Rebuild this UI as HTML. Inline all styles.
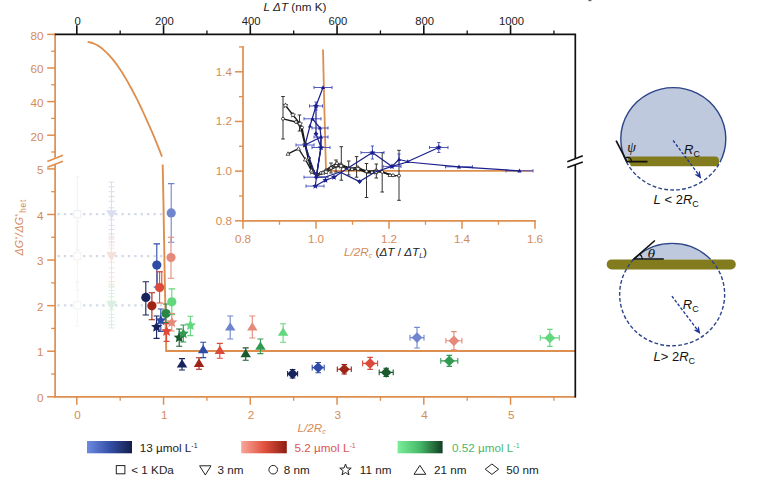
<!DOCTYPE html>
<html lang="en"><head><meta charset="utf-8"><title>Figure</title>
<style>html,body{margin:0;padding:0;background:#fff;}body{width:764px;height:488px;overflow:hidden;}svg{display:block;}</style>
</head><body>
<svg width="764" height="488" viewBox="0 0 764 488">
<defs>
<linearGradient id="gb" x1="0" x2="1" y1="0" y2="0"><stop offset="0" stop-color="#6C8BE0"/><stop offset="0.5" stop-color="#3550A8"/><stop offset="1" stop-color="#141E4A"/></linearGradient>
<linearGradient id="gr" x1="0" x2="1" y1="0" y2="0"><stop offset="0" stop-color="#F7A79A"/><stop offset="0.5" stop-color="#E2523F"/><stop offset="1" stop-color="#8E1D12"/></linearGradient>
<linearGradient id="gg" x1="0" x2="1" y1="0" y2="0"><stop offset="0" stop-color="#7BEE9A"/><stop offset="0.5" stop-color="#46B868"/><stop offset="1" stop-color="#123F22"/></linearGradient>
</defs>
<rect width="764" height="488" fill="#fff"/>
<rect x="588.4" y="0" width="3" height="1.2" fill="#666"/>
<line x1="57.50" y1="214.20" x2="163.00" y2="214.20" stroke="#D3D9E6" stroke-width="2.3" stroke-dasharray="2.3 4.1"/>
<line x1="57.50" y1="256.20" x2="163.00" y2="256.20" stroke="#D3D9E6" stroke-width="2.3" stroke-dasharray="2.3 4.1"/>
<line x1="57.50" y1="305.30" x2="163.00" y2="305.30" stroke="#D3D9E6" stroke-width="2.3" stroke-dasharray="2.3 4.1"/>
<g stroke="#EFF1F8" stroke-width="1" opacity="1" fill="none"><path d="M77.30 214.20V177.00M74.80 177.00H79.80"/><path d="M77.30 214.20V250.00M74.80 250.00H79.80"/></g>
<rect x="73.8" y="210.7" width="7" height="7" fill="#fff" stroke="#EFF1F8" stroke-width="1.2"/>
<g stroke="#FBF2F0" stroke-width="1" opacity="1" fill="none"><path d="M77.30 256.20V222.00M74.80 222.00H79.80"/><path d="M77.30 256.20V290.00M74.80 290.00H79.80"/></g>
<rect x="73.8" y="252.7" width="7" height="7" fill="#fff" stroke="#FBF2F0" stroke-width="1.2"/>
<g stroke="#EFF8F2" stroke-width="1" opacity="1" fill="none"><path d="M77.30 305.30V282.00M74.80 282.00H79.80"/><path d="M77.30 305.30V326.00M74.80 326.00H79.80"/></g>
<rect x="73.8" y="301.8" width="7" height="7" fill="#fff" stroke="#EFF8F2" stroke-width="1.2"/>
<g stroke="#D9DEF0" stroke-width="1" opacity="1" fill="none"><path d="M111.50 214.20V182.00M108.50 182.00H114.50"/><path d="M111.50 214.20V242.00M108.50 242.00H114.50"/></g>
<path d="M108.5 207.8H114.5M108.5 219.8H114.5" stroke="#D9DEF0" stroke-width="1"/>
<path d="M108.5 201.3H114.5M108.5 225.3H114.5" stroke="#D9DEF0" stroke-width="1"/>
<path d="M108.5 196.5H114.5M108.5 229.5H114.5" stroke="#D9DEF0" stroke-width="1"/>
<path d="M108.5 191.7H114.5M108.5 233.7H114.5" stroke="#D9DEF0" stroke-width="1"/>
<path d="M108.5 186.8H114.5M108.5 237.8H114.5" stroke="#D9DEF0" stroke-width="1"/>
<polygon points="111.50,219.20 116.75,210.20 106.25,210.20" fill="#D9DEF0"  opacity="1"/>
<g stroke="#F6E0DC" stroke-width="1" opacity="1" fill="none"><path d="M111.50 256.20V236.00M108.50 236.00H114.50"/><path d="M111.50 256.20V286.00M108.50 286.00H114.50"/></g>
<path d="M108.5 252.2H114.5M108.5 262.2H114.5" stroke="#F6E0DC" stroke-width="1"/>
<path d="M108.5 248.1H114.5M108.5 268.1H114.5" stroke="#F6E0DC" stroke-width="1"/>
<path d="M108.5 245.1H114.5M108.5 272.6H114.5" stroke="#F6E0DC" stroke-width="1"/>
<path d="M108.5 242.1H114.5M108.5 277.1H114.5" stroke="#F6E0DC" stroke-width="1"/>
<path d="M108.5 239.0H114.5M108.5 281.5H114.5" stroke="#F6E0DC" stroke-width="1"/>
<polygon points="111.50,261.20 116.75,252.20 106.25,252.20" fill="#F6E0DC"  opacity="1"/>
<g stroke="#D9EFE0" stroke-width="1" opacity="1" fill="none"><path d="M111.50 305.30V284.00M108.50 284.00H114.50"/><path d="M111.50 305.30V328.00M108.50 328.00H114.50"/></g>
<path d="M108.5 301.0H114.5M108.5 309.8H114.5" stroke="#D9EFE0" stroke-width="1"/>
<path d="M108.5 296.8H114.5M108.5 314.4H114.5" stroke="#D9EFE0" stroke-width="1"/>
<path d="M108.5 293.6H114.5M108.5 317.8H114.5" stroke="#D9EFE0" stroke-width="1"/>
<path d="M108.5 290.4H114.5M108.5 321.2H114.5" stroke="#D9EFE0" stroke-width="1"/>
<path d="M108.5 287.2H114.5M108.5 324.6H114.5" stroke="#D9EFE0" stroke-width="1"/>
<polygon points="111.50,310.30 116.75,301.30 106.25,301.30" fill="#D9EFE0"  opacity="1"/>
<path d="M87.60 41.90 L92.60 43.00 L97.50 45.30 L102.50 48.80 L107.40 53.30 L112.40 58.90 L117.40 65.40 L122.30 72.80 L127.30 81.10 L132.20 90.00 L137.20 99.70 L142.20 110.00 L147.10 120.80 L152.10 132.10 L157.00 143.80 L162.00 156.60" fill="none" stroke="#DE8E4E" stroke-width="1.8" stroke-linejoin="round"/>
<path d="M162.7 164.6 L163.4 200 L164.6 270 L166.2 351 L575 351" fill="none" stroke="#DE8E4E" stroke-width="1.9" stroke-linejoin="miter"/>
<g stroke="#6F86CF" stroke-width="1.1" opacity="1" fill="none"><path d="M171.20 212.90V183.60M168.00 183.60H174.40"/><path d="M171.20 212.90V242.20M168.00 242.20H174.40"/></g>
<g stroke="#E58A7B" stroke-width="1.1" opacity="1" fill="none"><path d="M171.00 257.50V237.30M167.80 237.30H174.20"/><path d="M171.00 257.50V278.30M167.80 278.30H174.20"/></g>
<g stroke="#2E4CA6" stroke-width="1.1" opacity="1" fill="none"><path d="M156.80 265.10V243.90M153.60 243.90H160.00"/><path d="M156.80 265.10V287.00M153.60 287.00H160.00"/></g>
<g stroke="#DC4A3A" stroke-width="1.1" opacity="1" fill="none"><path d="M159.60 287.60V271.80M156.40 271.80H162.80"/><path d="M159.60 287.60V303.00M156.40 303.00H162.80"/></g>
<g stroke="#17245C" stroke-width="1.1" opacity="1" fill="none"><path d="M145.80 297.40V281.70M142.60 281.70H149.00"/><path d="M145.80 297.40V315.00M142.60 315.00H149.00"/></g>
<g stroke="#9E2416" stroke-width="1.1" opacity="1" fill="none"><path d="M151.90 305.80V292.80M148.70 292.80H155.10"/><path d="M151.90 305.80V319.70M148.70 319.70H155.10"/></g>
<g stroke="#63D77E" stroke-width="1.1" opacity="1" fill="none"><path d="M171.80 301.80V288.90M168.60 288.90H175.00"/><path d="M171.80 301.80V314.60M168.60 314.60H175.00"/></g>
<g stroke="#2A8646" stroke-width="1.1" opacity="1" fill="none"><path d="M166.00 313.50V304.00M162.80 304.00H169.20"/><path d="M166.00 313.50V322.50M162.80 322.50H169.20"/></g>
<path d="M157.4 287 V271.8 H161.8 V287" fill="none" stroke="#DC4A3A" stroke-width="1.1"/>
<circle cx="171.20" cy="212.90" r="4.6" fill="#6F86CF"  opacity="1"/>
<circle cx="171.00" cy="257.50" r="4.6" fill="#E58A7B"  opacity="1"/>
<circle cx="156.80" cy="265.10" r="4.6" fill="#2E4CA6"  opacity="1"/>
<circle cx="159.60" cy="287.60" r="4.6" fill="#DC4A3A"  opacity="1"/>
<circle cx="145.80" cy="297.40" r="4.6" fill="#17245C"  opacity="1"/>
<circle cx="151.90" cy="305.80" r="4.6" fill="#9E2416"  opacity="1"/>
<circle cx="171.80" cy="301.80" r="4.6" fill="#63D77E"  opacity="1"/>
<circle cx="166.00" cy="313.50" r="4.6" fill="#2A8646"  opacity="1"/>
<g stroke="#17245C" stroke-width="1.1" opacity="1" fill="none"><path d="M156.60 327.00V316.00M153.60 316.00H159.60"/><path d="M156.60 327.00V338.40M153.60 338.40H159.60"/></g>
<g stroke="#2E4CA6" stroke-width="1.1" opacity="1" fill="none"><path d="M160.80 320.40V309.00M157.80 309.00H163.80"/><path d="M160.80 320.40V331.50M157.80 331.50H163.80"/></g>
<g stroke="#DC4A3A" stroke-width="1.1" opacity="1" fill="none"><path d="M166.60 331.20V323.60M163.60 323.60H169.60"/><path d="M166.60 331.20V341.40M163.60 341.40H169.60"/></g>
<g stroke="#E58A7B" stroke-width="1.1" opacity="1" fill="none"><path d="M171.80 322.40V313.50M168.80 313.50H174.80"/><path d="M171.80 322.40V331.00M168.80 331.00H174.80"/></g>
<g stroke="#1C5A2E" stroke-width="1.1" opacity="1" fill="none"><path d="M179.20 337.60V329.00M176.20 329.00H182.20"/><path d="M179.20 337.60V346.30M176.20 346.30H182.20"/></g>
<g stroke="#2F9A50" stroke-width="1.1" opacity="1" fill="none"><path d="M183.30 333.60V325.00M180.30 325.00H186.30"/><path d="M183.30 333.60V342.00M180.30 342.00H186.30"/></g>
<g stroke="#63D77E" stroke-width="1.1" opacity="1" fill="none"><path d="M190.40 325.40V316.20M187.40 316.20H193.40"/><path d="M190.40 325.40V335.60M187.40 335.60H193.40"/></g>
<polygon points="156.60,321.20 158.20,324.79 162.12,325.21 159.19,327.84 160.01,331.69 156.60,329.73 153.19,331.69 154.01,327.84 151.08,325.21 155.00,324.79" fill="#17245C"  opacity="1"/>
<polygon points="160.80,314.60 162.40,318.19 166.32,318.61 163.39,321.24 164.21,325.09 160.80,323.13 157.39,325.09 158.21,321.24 155.28,318.61 159.20,318.19" fill="#2E4CA6"  opacity="1"/>
<polygon points="166.60,325.40 168.20,328.99 172.12,329.41 169.19,332.04 170.01,335.89 166.60,333.93 163.19,335.89 164.01,332.04 161.08,329.41 165.00,328.99" fill="#DC4A3A"  opacity="1"/>
<polygon points="171.80,316.60 173.40,320.19 177.32,320.61 174.39,323.24 175.21,327.09 171.80,325.13 168.39,327.09 169.21,323.24 166.28,320.61 170.20,320.19" fill="#E58A7B"  opacity="1"/>
<polygon points="179.20,331.80 180.80,335.39 184.72,335.81 181.79,338.44 182.61,342.29 179.20,340.33 175.79,342.29 176.61,338.44 173.68,335.81 177.60,335.39" fill="#1C5A2E"  opacity="1"/>
<polygon points="183.30,327.80 184.90,331.39 188.82,331.81 185.89,334.44 186.71,338.29 183.30,336.33 179.89,338.29 180.71,334.44 177.78,331.81 181.70,331.39" fill="#2F9A50"  opacity="1"/>
<polygon points="190.40,319.60 192.00,323.19 195.92,323.61 192.99,326.24 193.81,330.09 190.40,328.13 186.99,330.09 187.81,326.24 184.88,323.61 188.80,323.19" fill="#63D77E"  opacity="1"/>
<g stroke="#6F86CF" stroke-width="1.1" opacity="1" fill="none"><path d="M230.20 326.60V316.00M227.20 316.00H233.20"/><path d="M230.20 326.60V339.00M227.20 339.00H233.20"/></g>
<g stroke="#E58A7B" stroke-width="1.1" opacity="1" fill="none"><path d="M252.30 326.60V316.00M249.30 316.00H255.30"/><path d="M252.30 326.60V338.00M249.30 338.00H255.30"/></g>
<g stroke="#63D77E" stroke-width="1.1" opacity="1" fill="none"><path d="M283.10 331.80V323.70M280.10 323.70H286.10"/><path d="M283.10 331.80V342.20M280.10 342.20H286.10"/></g>
<g stroke="#2E4CA6" stroke-width="1.1" opacity="1" fill="none"><path d="M203.20 349.20V342.30M200.20 342.30H206.20"/><path d="M203.20 349.20V357.60M200.20 357.60H206.20"/></g>
<g stroke="#DC4A3A" stroke-width="1.1" opacity="1" fill="none"><path d="M219.80 350.00V343.40M216.80 343.40H222.80"/><path d="M219.80 350.00V358.20M216.80 358.20H222.80"/></g>
<g stroke="#1C5A2E" stroke-width="1.1" opacity="1" fill="none"><path d="M245.70 353.20V347.90M242.70 347.90H248.70"/><path d="M245.70 353.20V360.30M242.70 360.30H248.70"/></g>
<g stroke="#2F9A50" stroke-width="1.1" opacity="1" fill="none"><path d="M260.40 345.80V339.00M257.40 339.00H263.40"/><path d="M260.40 345.80V353.60M257.40 353.60H263.40"/></g>
<g stroke="#17245C" stroke-width="1.1" opacity="1" fill="none"><path d="M182.00 363.60V358.60M179.00 358.60H185.00"/><path d="M182.00 363.60V370.00M179.00 370.00H185.00"/></g>
<g stroke="#9E2416" stroke-width="1.1" opacity="1" fill="none"><path d="M199.00 363.00V357.70M196.00 357.70H202.00"/><path d="M199.00 363.00V369.20M196.00 369.20H202.00"/></g>
<polygon points="230.20,322.20 235.45,330.60 224.95,330.60" fill="#6F86CF"  opacity="1"/>
<polygon points="252.30,322.20 257.55,330.60 247.05,330.60" fill="#E58A7B"  opacity="1"/>
<polygon points="283.10,327.40 288.35,335.80 277.85,335.80" fill="#63D77E"  opacity="1"/>
<polygon points="203.20,344.80 208.45,353.20 197.95,353.20" fill="#2E4CA6"  opacity="1"/>
<polygon points="219.80,345.60 225.05,354.00 214.55,354.00" fill="#DC4A3A"  opacity="1"/>
<polygon points="245.70,348.80 250.95,357.20 240.45,357.20" fill="#1C5A2E"  opacity="1"/>
<polygon points="260.40,341.40 265.65,349.80 255.15,349.80" fill="#2F9A50"  opacity="1"/>
<polygon points="182.00,359.20 187.25,367.60 176.75,367.60" fill="#17245C"  opacity="1"/>
<polygon points="199.00,358.60 204.25,367.00 193.75,367.00" fill="#9E2416"  opacity="1"/>
<g stroke="#17245C" stroke-width="1.1" opacity="1" fill="none"><path d="M292.60 373.80V369.50M289.80 369.50H295.40"/><path d="M292.60 373.80V378.00M289.80 378.00H295.40"/><path d="M292.60 373.80H287.60M287.60 371.00V376.60"/><path d="M292.60 373.80H297.60M297.60 371.00V376.60"/></g>
<g stroke="#2E4CA6" stroke-width="1.1" opacity="1" fill="none"><path d="M318.20 367.60V362.50M315.40 362.50H321.00"/><path d="M318.20 367.60V372.70M315.40 372.70H321.00"/><path d="M318.20 367.60H312.20M312.20 364.80V370.40"/><path d="M318.20 367.60H324.20M324.20 364.80V370.40"/></g>
<g stroke="#9E2416" stroke-width="1.1" opacity="1" fill="none"><path d="M344.30 369.30V364.60M341.50 364.60H347.10"/><path d="M344.30 369.30V374.00M341.50 374.00H347.10"/><path d="M344.30 369.30H337.30M337.30 366.50V372.10"/><path d="M344.30 369.30H351.30M351.30 366.50V372.10"/></g>
<g stroke="#DC4A3A" stroke-width="1.1" opacity="1" fill="none"><path d="M370.10 363.40V357.40M367.30 357.40H372.90"/><path d="M370.10 363.40V369.40M367.30 369.40H372.90"/><path d="M370.10 363.40H362.60M362.60 360.60V366.20"/><path d="M370.10 363.40H377.60M377.60 360.60V366.20"/></g>
<g stroke="#1C5A2E" stroke-width="1.1" opacity="1" fill="none"><path d="M386.20 372.40V368.30M383.40 368.30H389.00"/><path d="M386.20 372.40V376.50M383.40 376.50H389.00"/><path d="M386.20 372.40H379.20M379.20 369.60V375.20"/><path d="M386.20 372.40H393.20M393.20 369.60V375.20"/></g>
<g stroke="#6F86CF" stroke-width="1.1" opacity="1" fill="none"><path d="M417.00 337.60V327.40M414.20 327.40H419.80"/><path d="M417.00 337.60V348.00M414.20 348.00H419.80"/><path d="M417.00 337.60H410.00M410.00 334.80V340.40"/><path d="M417.00 337.60H424.00M424.00 334.80V340.40"/></g>
<g stroke="#E58A7B" stroke-width="1.1" opacity="1" fill="none"><path d="M453.90 340.80V331.60M451.10 331.60H456.70"/><path d="M453.90 340.80V349.80M451.10 349.80H456.70"/><path d="M453.90 340.80H445.90M445.90 338.00V343.60"/><path d="M453.90 340.80H461.90M461.90 338.00V343.60"/></g>
<g stroke="#2F9A50" stroke-width="1.1" opacity="1" fill="none"><path d="M449.30 360.90V355.40M446.50 355.40H452.10"/><path d="M449.30 360.90V366.40M446.50 366.40H452.10"/><path d="M449.30 360.90H440.80M440.80 358.10V363.70"/><path d="M449.30 360.90H457.80M457.80 358.10V363.70"/></g>
<g stroke="#63D77E" stroke-width="1.1" opacity="1" fill="none"><path d="M549.80 337.90V329.40M547.00 329.40H552.60"/><path d="M549.80 337.90V346.40M547.00 346.40H552.60"/><path d="M549.80 337.90H540.30M540.30 335.10V340.70"/><path d="M549.80 337.90H559.30M559.30 335.10V340.70"/></g>
<polygon points="292.60,368.40 298.00,373.80 292.60,379.20 287.20,373.80" fill="#17245C"  opacity="1"/>
<polygon points="318.20,362.20 323.60,367.60 318.20,373.00 312.80,367.60" fill="#2E4CA6"  opacity="1"/>
<polygon points="344.30,363.90 349.70,369.30 344.30,374.70 338.90,369.30" fill="#9E2416"  opacity="1"/>
<polygon points="370.10,358.00 375.50,363.40 370.10,368.80 364.70,363.40" fill="#DC4A3A"  opacity="1"/>
<polygon points="386.20,367.00 391.60,372.40 386.20,377.80 380.80,372.40" fill="#1C5A2E"  opacity="1"/>
<polygon points="417.00,332.20 422.40,337.60 417.00,343.00 411.60,337.60" fill="#6F86CF"  opacity="1"/>
<polygon points="453.90,335.40 459.30,340.80 453.90,346.20 448.50,340.80" fill="#E58A7B"  opacity="1"/>
<polygon points="449.30,355.50 454.70,360.90 449.30,366.30 443.90,360.90" fill="#2F9A50"  opacity="1"/>
<polygon points="549.80,332.50 555.20,337.90 549.80,343.30 544.40,337.90" fill="#63D77E"  opacity="1"/>
<line x1="55.10" y1="33.60" x2="55.10" y2="157.80" stroke="#DE8E4E" stroke-width="1.7" />
<line x1="55.10" y1="164.60" x2="55.10" y2="397.60" stroke="#DE8E4E" stroke-width="1.7" />
<line x1="47.30" y1="161.50" x2="63.00" y2="155.30" stroke="#DE8E4E" stroke-width="1.5" />
<line x1="47.30" y1="167.20" x2="63.00" y2="161.30" stroke="#DE8E4E" stroke-width="1.5" />
<line x1="54.30" y1="396.80" x2="575.30" y2="396.80" stroke="#DE8E4E" stroke-width="1.7" />
<line x1="54.30" y1="34.40" x2="576.10" y2="34.40" stroke="#111" stroke-width="1.7" />
<line x1="575.30" y1="34.40" x2="575.30" y2="158.00" stroke="#111" stroke-width="1.7" />
<line x1="575.30" y1="164.80" x2="575.30" y2="397.60" stroke="#111" stroke-width="1.7" />
<line x1="567.30" y1="161.80" x2="582.80" y2="155.70" stroke="#111" stroke-width="1.5" />
<line x1="567.30" y1="167.50" x2="582.80" y2="162.00" stroke="#111" stroke-width="1.5" />
<line x1="47.20" y1="34.40" x2="55.10" y2="34.40" stroke="#DE8E4E" stroke-width="1.5" />
<text x="43.50" y="39.70" fill="#D48B5A" font-size="11.7" text-anchor="end" font-family='"Liberation Sans", Arial, sans-serif' >80</text>
<line x1="47.20" y1="68.00" x2="55.10" y2="68.00" stroke="#DE8E4E" stroke-width="1.5" />
<text x="43.50" y="73.30" fill="#D48B5A" font-size="11.7" text-anchor="end" font-family='"Liberation Sans", Arial, sans-serif' >60</text>
<line x1="47.20" y1="101.60" x2="55.10" y2="101.60" stroke="#DE8E4E" stroke-width="1.5" />
<text x="43.50" y="106.90" fill="#D48B5A" font-size="11.7" text-anchor="end" font-family='"Liberation Sans", Arial, sans-serif' >40</text>
<line x1="47.20" y1="135.20" x2="55.10" y2="135.20" stroke="#DE8E4E" stroke-width="1.5" />
<text x="43.50" y="140.50" fill="#D48B5A" font-size="11.7" text-anchor="end" font-family='"Liberation Sans", Arial, sans-serif' >20</text>
<line x1="51.20" y1="51.20" x2="55.10" y2="51.20" stroke="#DE8E4E" stroke-width="1.3" />
<line x1="51.20" y1="84.80" x2="55.10" y2="84.80" stroke="#DE8E4E" stroke-width="1.3" />
<line x1="51.20" y1="118.40" x2="55.10" y2="118.40" stroke="#DE8E4E" stroke-width="1.3" />
<line x1="51.20" y1="152.00" x2="55.10" y2="152.00" stroke="#DE8E4E" stroke-width="1.3" />
<line x1="47.20" y1="396.80" x2="55.10" y2="396.80" stroke="#DE8E4E" stroke-width="1.5" />
<text x="43.50" y="401.70" fill="#D48B5A" font-size="11.7" text-anchor="end" font-family='"Liberation Sans", Arial, sans-serif' >0</text>
<line x1="47.20" y1="351.22" x2="55.10" y2="351.22" stroke="#DE8E4E" stroke-width="1.5" />
<text x="43.50" y="356.12" fill="#D48B5A" font-size="11.7" text-anchor="end" font-family='"Liberation Sans", Arial, sans-serif' >1</text>
<line x1="47.20" y1="305.64" x2="55.10" y2="305.64" stroke="#DE8E4E" stroke-width="1.5" />
<text x="43.50" y="310.54" fill="#D48B5A" font-size="11.7" text-anchor="end" font-family='"Liberation Sans", Arial, sans-serif' >2</text>
<line x1="47.20" y1="260.06" x2="55.10" y2="260.06" stroke="#DE8E4E" stroke-width="1.5" />
<text x="43.50" y="264.96" fill="#D48B5A" font-size="11.7" text-anchor="end" font-family='"Liberation Sans", Arial, sans-serif' >3</text>
<line x1="47.20" y1="214.48" x2="55.10" y2="214.48" stroke="#DE8E4E" stroke-width="1.5" />
<text x="43.50" y="219.88" fill="#D48B5A" font-size="11.7" text-anchor="end" font-family='"Liberation Sans", Arial, sans-serif' >4</text>
<line x1="47.20" y1="168.90" x2="55.10" y2="168.90" stroke="#DE8E4E" stroke-width="1.5" />
<text x="43.50" y="174.30" fill="#D48B5A" font-size="11.7" text-anchor="end" font-family='"Liberation Sans", Arial, sans-serif' >5</text>
<line x1="51.20" y1="374.01" x2="55.10" y2="374.01" stroke="#DE8E4E" stroke-width="1.3" />
<line x1="51.20" y1="328.43" x2="55.10" y2="328.43" stroke="#DE8E4E" stroke-width="1.3" />
<line x1="51.20" y1="282.85" x2="55.10" y2="282.85" stroke="#DE8E4E" stroke-width="1.3" />
<line x1="51.20" y1="237.27" x2="55.10" y2="237.27" stroke="#DE8E4E" stroke-width="1.3" />
<line x1="51.20" y1="191.69" x2="55.10" y2="191.69" stroke="#DE8E4E" stroke-width="1.3" />
<line x1="76.80" y1="396.80" x2="76.80" y2="404.80" stroke="#DE8E4E" stroke-width="1.5" />
<text x="77.40" y="419.30" fill="#D48B5A" font-size="11.7" text-anchor="middle" font-family='"Liberation Sans", Arial, sans-serif' >0</text>
<line x1="163.55" y1="396.80" x2="163.55" y2="404.80" stroke="#DE8E4E" stroke-width="1.5" />
<text x="164.15" y="419.30" fill="#D48B5A" font-size="11.7" text-anchor="middle" font-family='"Liberation Sans", Arial, sans-serif' >1</text>
<line x1="250.30" y1="396.80" x2="250.30" y2="404.80" stroke="#DE8E4E" stroke-width="1.5" />
<text x="250.90" y="419.30" fill="#D48B5A" font-size="11.7" text-anchor="middle" font-family='"Liberation Sans", Arial, sans-serif' >2</text>
<line x1="337.05" y1="396.80" x2="337.05" y2="404.80" stroke="#DE8E4E" stroke-width="1.5" />
<text x="337.65" y="419.30" fill="#D48B5A" font-size="11.7" text-anchor="middle" font-family='"Liberation Sans", Arial, sans-serif' >3</text>
<line x1="423.80" y1="396.80" x2="423.80" y2="404.80" stroke="#DE8E4E" stroke-width="1.5" />
<text x="424.40" y="419.30" fill="#D48B5A" font-size="11.7" text-anchor="middle" font-family='"Liberation Sans", Arial, sans-serif' >4</text>
<line x1="510.55" y1="396.80" x2="510.55" y2="404.80" stroke="#DE8E4E" stroke-width="1.5" />
<text x="511.15" y="419.30" fill="#D48B5A" font-size="11.7" text-anchor="middle" font-family='"Liberation Sans", Arial, sans-serif' >5</text>
<line x1="120.18" y1="396.80" x2="120.18" y2="400.80" stroke="#DE8E4E" stroke-width="1.3" />
<line x1="206.93" y1="396.80" x2="206.93" y2="400.80" stroke="#DE8E4E" stroke-width="1.3" />
<line x1="293.68" y1="396.80" x2="293.68" y2="400.80" stroke="#DE8E4E" stroke-width="1.3" />
<line x1="380.43" y1="396.80" x2="380.43" y2="400.80" stroke="#DE8E4E" stroke-width="1.3" />
<line x1="467.18" y1="396.80" x2="467.18" y2="400.80" stroke="#DE8E4E" stroke-width="1.3" />
<line x1="553.93" y1="396.80" x2="553.93" y2="400.80" stroke="#DE8E4E" stroke-width="1.3" />
<line x1="76.80" y1="34.40" x2="76.80" y2="25.20" stroke="#111" stroke-width="1.6" />
<text x="77.70" y="25.40" fill="#222" font-size="11.3" text-anchor="middle" font-family='"Liberation Sans", Arial, sans-serif' >0</text>
<line x1="163.55" y1="34.40" x2="163.55" y2="25.20" stroke="#111" stroke-width="1.6" />
<text x="164.45" y="25.40" fill="#222" font-size="11.3" text-anchor="middle" font-family='"Liberation Sans", Arial, sans-serif' >200</text>
<line x1="250.30" y1="34.40" x2="250.30" y2="25.20" stroke="#111" stroke-width="1.6" />
<text x="251.20" y="25.40" fill="#222" font-size="11.3" text-anchor="middle" font-family='"Liberation Sans", Arial, sans-serif' >400</text>
<line x1="337.05" y1="34.40" x2="337.05" y2="25.20" stroke="#111" stroke-width="1.6" />
<text x="337.95" y="25.40" fill="#222" font-size="11.3" text-anchor="middle" font-family='"Liberation Sans", Arial, sans-serif' >600</text>
<line x1="423.80" y1="34.40" x2="423.80" y2="25.20" stroke="#111" stroke-width="1.6" />
<text x="424.70" y="25.40" fill="#222" font-size="11.3" text-anchor="middle" font-family='"Liberation Sans", Arial, sans-serif' >800</text>
<line x1="510.55" y1="34.40" x2="510.55" y2="25.20" stroke="#111" stroke-width="1.6" />
<text x="511.45" y="25.40" fill="#222" font-size="11.3" text-anchor="middle" font-family='"Liberation Sans", Arial, sans-serif' >1000</text>
<line x1="120.18" y1="34.40" x2="120.18" y2="30.40" stroke="#111" stroke-width="1.3" />
<line x1="206.93" y1="34.40" x2="206.93" y2="30.40" stroke="#111" stroke-width="1.3" />
<line x1="293.68" y1="34.40" x2="293.68" y2="30.40" stroke="#111" stroke-width="1.3" />
<line x1="380.43" y1="34.40" x2="380.43" y2="30.40" stroke="#111" stroke-width="1.3" />
<line x1="467.18" y1="34.40" x2="467.18" y2="30.40" stroke="#111" stroke-width="1.3" />
<line x1="553.93" y1="34.40" x2="553.93" y2="30.40" stroke="#111" stroke-width="1.3" />
<text x="263.5" y="11" fill="#222" font-size="11.7" font-family='"Liberation Sans", Arial, sans-serif'><tspan font-style="italic">L ΔT</tspan> (nm K)</text>
<text x="297.6" y="432.3" fill="#D48B5A" font-size="11.7" font-style="italic" font-family='"Liberation Sans", Arial, sans-serif'>L/2R<tspan font-size="7" dy="2">c</tspan></text>
<g transform="translate(22.9 255.4) rotate(-90)" fill="#D48B5A" font-style="italic" font-family='"Liberation Sans", Arial, sans-serif'><text x="0" y="0" font-size="10.8">ΔG</text><text x="15.7" y="-3.4" font-size="7.5">*</text><text x="18.9" y="0" font-size="10.8">/</text><text x="22.8" y="0" font-size="10.8">ΔG</text><text x="38.5" y="-3.4" font-size="7.5">*</text><text x="42.6" y="2.6" font-size="8.4" font-style="normal" letter-spacing="0.7">het</text></g>
<line x1="243.00" y1="46.00" x2="243.00" y2="221.60" stroke="#DE8E4E" stroke-width="1.7" />
<line x1="242.20" y1="220.80" x2="535.80" y2="220.80" stroke="#DE8E4E" stroke-width="1.7" />
<line x1="235.00" y1="220.80" x2="243.00" y2="220.80" stroke="#DE8E4E" stroke-width="1.5" />
<text x="232.00" y="224.80" fill="#D48B5A" font-size="11.7" text-anchor="end" font-family='"Liberation Sans", Arial, sans-serif' >0.8</text>
<line x1="235.00" y1="171.13" x2="243.00" y2="171.13" stroke="#DE8E4E" stroke-width="1.5" />
<text x="232.00" y="175.13" fill="#D48B5A" font-size="11.7" text-anchor="end" font-family='"Liberation Sans", Arial, sans-serif' >1.0</text>
<line x1="235.00" y1="121.47" x2="243.00" y2="121.47" stroke="#DE8E4E" stroke-width="1.5" />
<text x="232.00" y="125.47" fill="#D48B5A" font-size="11.7" text-anchor="end" font-family='"Liberation Sans", Arial, sans-serif' >1.2</text>
<line x1="235.00" y1="71.80" x2="243.00" y2="71.80" stroke="#DE8E4E" stroke-width="1.5" />
<text x="232.00" y="75.80" fill="#D48B5A" font-size="11.7" text-anchor="end" font-family='"Liberation Sans", Arial, sans-serif' >1.4</text>
<line x1="239.00" y1="195.97" x2="243.00" y2="195.97" stroke="#DE8E4E" stroke-width="1.3" />
<line x1="239.00" y1="146.30" x2="243.00" y2="146.30" stroke="#DE8E4E" stroke-width="1.3" />
<line x1="239.00" y1="96.63" x2="243.00" y2="96.63" stroke="#DE8E4E" stroke-width="1.3" />
<line x1="239.00" y1="46.97" x2="243.00" y2="46.97" stroke="#DE8E4E" stroke-width="1.3" />
<line x1="243.00" y1="220.80" x2="243.00" y2="228.80" stroke="#DE8E4E" stroke-width="1.5" />
<text x="243.00" y="243.20" fill="#D48B5A" font-size="11.7" text-anchor="middle" font-family='"Liberation Sans", Arial, sans-serif' >0.8</text>
<line x1="316.00" y1="220.80" x2="316.00" y2="228.80" stroke="#DE8E4E" stroke-width="1.5" />
<text x="316.00" y="243.20" fill="#D48B5A" font-size="11.7" text-anchor="middle" font-family='"Liberation Sans", Arial, sans-serif' >1.0</text>
<line x1="389.00" y1="220.80" x2="389.00" y2="228.80" stroke="#DE8E4E" stroke-width="1.5" />
<text x="389.00" y="243.20" fill="#D48B5A" font-size="11.7" text-anchor="middle" font-family='"Liberation Sans", Arial, sans-serif' >1.2</text>
<line x1="462.00" y1="220.80" x2="462.00" y2="228.80" stroke="#DE8E4E" stroke-width="1.5" />
<text x="462.00" y="243.20" fill="#D48B5A" font-size="11.7" text-anchor="middle" font-family='"Liberation Sans", Arial, sans-serif' >1.4</text>
<line x1="535.00" y1="220.80" x2="535.00" y2="228.80" stroke="#DE8E4E" stroke-width="1.5" />
<text x="535.00" y="243.20" fill="#D48B5A" font-size="11.7" text-anchor="middle" font-family='"Liberation Sans", Arial, sans-serif' >1.6</text>
<line x1="279.50" y1="220.80" x2="279.50" y2="224.80" stroke="#DE8E4E" stroke-width="1.3" />
<line x1="352.50" y1="220.80" x2="352.50" y2="224.80" stroke="#DE8E4E" stroke-width="1.3" />
<line x1="425.50" y1="220.80" x2="425.50" y2="224.80" stroke="#DE8E4E" stroke-width="1.3" />
<line x1="498.50" y1="220.80" x2="498.50" y2="224.80" stroke="#DE8E4E" stroke-width="1.3" />
<text x="344.1" y="256.3" font-size="11.7" font-family='"Liberation Sans", Arial, sans-serif'><tspan fill="#D48B5A" font-style="italic">L/2R<tspan font-size="7" dy="2">c</tspan></tspan><tspan fill="#222" dy="-2"> (<tspan font-style="italic">ΔT</tspan> / <tspan font-style="italic">ΔT<tspan font-size="7" dy="2">L</tspan></tspan><tspan dy="-2">)</tspan></tspan></text>
<path d="M323 49.5 L324.4 110 L326 170.9 L532.5 170.9" fill="none" stroke="#DE8E4E" stroke-width="1.8"/>
<g stroke="#333" stroke-width="1" opacity="1" fill="none"><path d="M283.00 117.75V96.50M281.20 96.50H284.80"/><path d="M283.00 117.75V139.00M281.20 139.00H284.80"/></g>
<g stroke="#333" stroke-width="1" opacity="1" fill="none"><path d="M299.50 123.00V115.00M297.70 115.00H301.30"/><path d="M299.50 123.00V131.00M297.70 131.00H301.30"/></g>
<g stroke="#333" stroke-width="1" opacity="1" fill="none"><path d="M341.30 163.45V146.70M339.50 146.70H343.10"/><path d="M341.30 163.45V180.20M339.50 180.20H343.10"/></g>
<g stroke="#333" stroke-width="1" opacity="1" fill="none"><path d="M348.70 168.00V161.00M346.90 161.00H350.50"/><path d="M348.70 168.00V175.00M346.90 175.00H350.50"/></g>
<g stroke="#333" stroke-width="1" opacity="1" fill="none"><path d="M356.60 166.90V156.60M354.80 156.60H358.40"/><path d="M356.60 166.90V177.20M354.80 177.20H358.40"/></g>
<g stroke="#333" stroke-width="1" opacity="1" fill="none"><path d="M366.50 180.50V163.50M364.70 163.50H368.30"/><path d="M366.50 180.50V197.50M364.70 197.50H368.30"/></g>
<g stroke="#333" stroke-width="1" opacity="1" fill="none"><path d="M382.20 172.30V152.60M380.40 152.60H384.00"/><path d="M382.20 172.30V192.00M380.40 192.00H384.00"/></g>
<g stroke="#333" stroke-width="1" opacity="1" fill="none"><path d="M399.00 175.30V150.30M397.20 150.30H400.80"/><path d="M399.00 175.30V200.30M397.20 200.30H400.80"/></g>
<g stroke="#333" stroke-width="1" opacity="1" fill="none"><path d="M376.30 171.00V164.00M374.50 164.00H378.10"/><path d="M376.30 171.00V178.00M374.50 178.00H378.10"/></g>
<g stroke="#333" stroke-width="1" opacity="1" fill="none"><path d="M336.00 166.00V160.00M334.20 160.00H337.80"/><path d="M336.00 166.00V172.00M334.20 172.00H337.80"/></g>
<g stroke="#333" stroke-width="1" opacity="1" fill="none"><path d="M331.00 168.00V163.00M329.20 163.00H332.80"/><path d="M331.00 168.00V173.00M329.20 173.00H332.80"/></g>
<path d="M283.0 118.8 L296.0 122.0 L302.0 127.5 L305.2 143.8 L309.0 158.0 L313.0 171.0 L316.3 174.3 L321.0 173.0 L326.0 170.4 L331.0 168.0 L336.0 165.4 L340.9 164.4 L348.7 168.4 L357.6 167.4 L366.5 171.3 L376.3 170.4 L382.2 171.9 L393.0 175.3 L399.0 175.7" fill="none" stroke="#1a1a1a" stroke-width="1.35" stroke-linejoin="round"/>
<path d="M285.5 105.5 L293.0 115.0 L300.0 123.8 L305.0 145.0 L308.5 160.0 L312.0 172.0 L317.0 176.0 L326.0 172.0 L336.0 167.0 L341.0 166.0 L349.0 170.0 L358.0 169.0 L366.5 173.0 L376.0 172.0" fill="none" stroke="#1a1a1a" stroke-width="1.35" stroke-linejoin="round"/>
<path d="M288.0 153.8 L298.5 148.7 L305.4 159.5 L311.3 170.4 L316.3 174.3 L323.0 172.5 L330.0 167.0 L337.0 163.0 L344.0 166.0 L352.0 169.0 L362.0 170.0 L372.0 172.0 L382.0 172.0 L390.0 175.0 L396.0 176.0" fill="none" stroke="#1a1a1a" stroke-width="1.35" stroke-linejoin="round"/>
<circle cx="283.0" cy="118.8" r="1.5" fill="#fff" stroke="#1a1a1a" stroke-width="0.8"/>
<circle cx="296.0" cy="122.0" r="1.5" fill="#fff" stroke="#1a1a1a" stroke-width="0.8"/>
<circle cx="302.0" cy="127.5" r="1.5" fill="#fff" stroke="#1a1a1a" stroke-width="0.8"/>
<circle cx="305.2" cy="143.8" r="1.5" fill="#fff" stroke="#1a1a1a" stroke-width="0.8"/>
<circle cx="309.0" cy="158.0" r="1.5" fill="#fff" stroke="#1a1a1a" stroke-width="0.8"/>
<circle cx="313.0" cy="171.0" r="1.5" fill="#fff" stroke="#1a1a1a" stroke-width="0.8"/>
<circle cx="316.3" cy="174.3" r="1.5" fill="#fff" stroke="#1a1a1a" stroke-width="0.8"/>
<circle cx="321.0" cy="173.0" r="1.5" fill="#fff" stroke="#1a1a1a" stroke-width="0.8"/>
<circle cx="326.0" cy="170.4" r="1.5" fill="#fff" stroke="#1a1a1a" stroke-width="0.8"/>
<circle cx="331.0" cy="168.0" r="1.5" fill="#fff" stroke="#1a1a1a" stroke-width="0.8"/>
<circle cx="336.0" cy="165.4" r="1.5" fill="#fff" stroke="#1a1a1a" stroke-width="0.8"/>
<circle cx="340.9" cy="164.4" r="1.5" fill="#fff" stroke="#1a1a1a" stroke-width="0.8"/>
<circle cx="348.7" cy="168.4" r="1.5" fill="#fff" stroke="#1a1a1a" stroke-width="0.8"/>
<circle cx="357.6" cy="167.4" r="1.5" fill="#fff" stroke="#1a1a1a" stroke-width="0.8"/>
<circle cx="366.5" cy="171.3" r="1.5" fill="#fff" stroke="#1a1a1a" stroke-width="0.8"/>
<circle cx="376.3" cy="170.4" r="1.5" fill="#fff" stroke="#1a1a1a" stroke-width="0.8"/>
<circle cx="382.2" cy="171.9" r="1.5" fill="#fff" stroke="#1a1a1a" stroke-width="0.8"/>
<circle cx="393.0" cy="175.3" r="1.5" fill="#fff" stroke="#1a1a1a" stroke-width="0.8"/>
<circle cx="399.0" cy="175.7" r="1.5" fill="#fff" stroke="#1a1a1a" stroke-width="0.8"/>
<polygon points="285.50,102.90 286.22,104.51 287.97,104.70 286.66,105.88 287.03,107.60 285.50,106.72 283.97,107.60 284.34,105.88 283.03,104.70 284.78,104.51" fill="#fff" stroke="#1a1a1a" stroke-width="0.7"/>
<polygon points="293.00,112.40 293.72,114.01 295.47,114.20 294.16,115.38 294.53,117.10 293.00,116.22 291.47,117.10 291.84,115.38 290.53,114.20 292.28,114.01" fill="#fff" stroke="#1a1a1a" stroke-width="0.7"/>
<polygon points="300.00,121.20 300.72,122.81 302.47,123.00 301.16,124.18 301.53,125.90 300.00,125.02 298.47,125.90 298.84,124.18 297.53,123.00 299.28,122.81" fill="#fff" stroke="#1a1a1a" stroke-width="0.7"/>
<polygon points="305.00,142.40 305.72,144.01 307.47,144.20 306.16,145.38 306.53,147.10 305.00,146.22 303.47,147.10 303.84,145.38 302.53,144.20 304.28,144.01" fill="#fff" stroke="#1a1a1a" stroke-width="0.7"/>
<polygon points="312.00,169.40 312.72,171.01 314.47,171.20 313.16,172.38 313.53,174.10 312.00,173.22 310.47,174.10 310.84,172.38 309.53,171.20 311.28,171.01" fill="#fff" stroke="#1a1a1a" stroke-width="0.7"/>
<polygon points="326.00,169.40 326.72,171.01 328.47,171.20 327.16,172.38 327.53,174.10 326.00,173.22 324.47,174.10 324.84,172.38 323.53,171.20 325.28,171.01" fill="#fff" stroke="#1a1a1a" stroke-width="0.7"/>
<polygon points="341.00,163.40 341.72,165.01 343.47,165.20 342.16,166.38 342.53,168.10 341.00,167.22 339.47,168.10 339.84,166.38 338.53,165.20 340.28,165.01" fill="#fff" stroke="#1a1a1a" stroke-width="0.7"/>
<polygon points="358.00,166.40 358.72,168.01 360.47,168.20 359.16,169.38 359.53,171.10 358.00,170.22 356.47,171.10 356.84,169.38 355.53,168.20 357.28,168.01" fill="#fff" stroke="#1a1a1a" stroke-width="0.7"/>
<polygon points="376.00,169.40 376.72,171.01 378.47,171.20 377.16,172.38 377.53,174.10 376.00,173.22 374.47,174.10 374.84,172.38 373.53,171.20 375.28,171.01" fill="#fff" stroke="#1a1a1a" stroke-width="0.7"/>
<polygon points="288.0,151.8 290.0,155.3 286.0,155.3" fill="#fff" stroke="#1a1a1a" stroke-width="0.7"/>
<polygon points="298.5,146.7 300.5,150.2 296.5,150.2" fill="#fff" stroke="#1a1a1a" stroke-width="0.7"/>
<polygon points="305.4,157.5 307.4,161.0 303.4,161.0" fill="#fff" stroke="#1a1a1a" stroke-width="0.7"/>
<polygon points="311.3,168.4 313.3,171.9 309.3,171.9" fill="#fff" stroke="#1a1a1a" stroke-width="0.7"/>
<polygon points="323.0,170.5 325.0,174.0 321.0,174.0" fill="#fff" stroke="#1a1a1a" stroke-width="0.7"/>
<polygon points="337.0,161.0 339.0,164.5 335.0,164.5" fill="#fff" stroke="#1a1a1a" stroke-width="0.7"/>
<polygon points="352.0,167.0 354.0,170.5 350.0,170.5" fill="#fff" stroke="#1a1a1a" stroke-width="0.7"/>
<polygon points="372.0,170.0 374.0,173.5 370.0,173.5" fill="#fff" stroke="#1a1a1a" stroke-width="0.7"/>
<polygon points="390.0,173.0 392.0,176.5 388.0,176.5" fill="#fff" stroke="#1a1a1a" stroke-width="0.7"/>
<g stroke="#3D48B8" stroke-width="0.9" opacity="1" fill="none"><path d="M323.00 87.50H314.00M314.00 85.90V89.10"/><path d="M323.00 87.50H332.00M332.00 85.90V89.10"/></g>
<g stroke="#3D48B8" stroke-width="0.9" opacity="1" fill="none"><path d="M316.00 106.00H309.50M309.50 104.40V107.60"/><path d="M316.00 106.00H322.50M322.50 104.40V107.60"/></g>
<g stroke="#3D48B8" stroke-width="0.9" opacity="1" fill="none"><path d="M312.50 118.80H304.00M304.00 117.20V120.40"/><path d="M312.50 118.80H321.00M321.00 117.20V120.40"/></g>
<g stroke="#3D48B8" stroke-width="0.9" opacity="1" fill="none"><path d="M320.00 128.00H312.00M312.00 126.40V129.60"/><path d="M320.00 128.00H328.00M328.00 126.40V129.60"/></g>
<g stroke="#3D48B8" stroke-width="0.9" opacity="1" fill="none"><path d="M321.00 147.50H312.00M312.00 145.90V149.10"/><path d="M321.00 147.50H330.00M330.00 145.90V149.10"/></g>
<g stroke="#3D48B8" stroke-width="0.9" opacity="1" fill="none"><path d="M305.00 145.00H296.00M296.00 143.40V146.60"/><path d="M305.00 145.00H314.00M314.00 143.40V146.60"/></g>
<g stroke="#3D48B8" stroke-width="0.9" opacity="1" fill="none"><path d="M316.30 177.20H304.00M304.00 175.60V178.80"/><path d="M316.30 177.20H328.00M328.00 175.60V178.80"/></g>
<g stroke="#3D48B8" stroke-width="0.9" opacity="1" fill="none"><path d="M315.30 186.10H306.00M306.00 184.50V187.70"/><path d="M315.30 186.10H324.00M324.00 184.50V187.70"/></g>
<g stroke="#3D48B8" stroke-width="0.9" opacity="1" fill="none"><path d="M372.40 152.60H361.00M361.00 151.00V154.20"/><path d="M372.40 152.60H384.00M384.00 151.00V154.20"/></g>
<g stroke="#3D48B8" stroke-width="0.9" opacity="1" fill="none"><path d="M392.00 166.40H383.00M383.00 164.80V168.00"/><path d="M392.00 166.40H401.00M401.00 164.80V168.00"/></g>
<g stroke="#3D48B8" stroke-width="0.9" opacity="1" fill="none"><path d="M438.80 147.50H429.50M429.50 145.90V149.10"/><path d="M438.80 147.50H448.00M448.00 145.90V149.10"/></g>
<g stroke="#3D48B8" stroke-width="0.9" opacity="1" fill="none"><path d="M459.00 166.80H445.50M445.50 165.20V168.40"/><path d="M459.00 166.80H472.50M472.50 165.20V168.40"/></g>
<g stroke="#3D48B8" stroke-width="0.9" opacity="1" fill="none"><path d="M519.50 170.80H506.00M506.00 169.20V172.40"/><path d="M519.50 170.80H533.00M533.00 169.20V172.40"/></g>
<g stroke="#3D48B8" stroke-width="0.9" opacity="1" fill="none"><path d="M321.00 137.00H314.00M314.00 135.40V138.60"/><path d="M321.00 137.00H328.00M328.00 135.40V138.60"/></g>
<g stroke="#3D48B8" stroke-width="0.9" opacity="1" fill="none"><path d="M372.40 152.60V146.00M370.80 146.00H374.00"/><path d="M372.40 152.60V159.00M370.80 159.00H374.00"/></g>
<g stroke="#3D48B8" stroke-width="0.9" opacity="1" fill="none"><path d="M438.80 147.50V142.50M437.20 142.50H440.40"/><path d="M438.80 147.50V152.50M437.20 152.50H440.40"/></g>
<g stroke="#3D48B8" stroke-width="0.9" opacity="1" fill="none"><path d="M399.00 159.50V154.00M397.40 154.00H400.60"/><path d="M399.00 159.50V165.00M397.40 165.00H400.60"/></g>
<g stroke="#3D48B8" stroke-width="0.9" opacity="1" fill="none"><path d="M316.00 106.00V102.00M314.40 102.00H317.60"/><path d="M316.00 106.00V110.00M314.40 110.00H317.60"/></g>
<path d="M323.0 87.5 L316.0 106.0 L310.0 126.0 L305.0 145.0 L310.0 160.0 L316.3 177.2 L320.5 150.0 L321.0 137.0 L320.0 128.0 L312.5 118.8" fill="none" stroke="#1A1F8C" stroke-width="1.2" stroke-linejoin="round"/>
<path d="M316.0 106.0 L316.0 133.8 L321.0 147.5 L318.0 165.0 L315.3 186.1 L325.5 180.2 L334.0 177.2 L345.0 170.0 L372.4 152.6 L392.0 166.4 L399.0 159.5 L407.8 161.5 L438.8 147.5" fill="none" stroke="#1A1F8C" stroke-width="1.2" stroke-linejoin="round"/>
<path d="M305.0 145.0 L321.0 137.0 L321.0 147.5 L316.3 177.2 L325.5 177.0 L340.0 172.0 L359.6 181.6 L375.0 172.0 L392.0 166.4 L407.5 162.0 L459.0 166.8 L519.5 170.8" fill="none" stroke="#1A1F8C" stroke-width="1.2" stroke-linejoin="round"/>
<polygon points="323.0,85.3 325.1,89.1 320.9,89.1" fill="#1A1F8C"/>
<polygon points="312.5,116.6 314.6,120.4 310.4,120.4" fill="#1A1F8C"/>
<polygon points="320.0,125.8 322.1,129.6 317.9,129.6" fill="#1A1F8C"/>
<polygon points="321.0,134.8 323.1,138.6 318.9,138.6" fill="#1A1F8C"/>
<polygon points="305.0,142.8 307.1,146.6 302.9,146.6" fill="#1A1F8C"/>
<polygon points="310.0,123.8 312.1,127.6 307.9,127.6" fill="#1A1F8C"/>
<polygon points="459.0,164.6 461.1,168.4 456.9,168.4" fill="#1A1F8C"/>
<polygon points="519.5,168.6 521.6,172.4 517.4,172.4" fill="#1A1F8C"/>
<polygon points="407.8,159.3 409.9,163.1 405.7,163.1" fill="#1A1F8C"/>
<polygon points="399.0,157.3 401.1,161.1 396.9,161.1" fill="#1A1F8C"/>
<polygon points="316.00,102.80 316.88,104.78 319.04,105.01 317.43,106.46 317.88,108.59 316.00,107.50 314.12,108.59 314.57,106.46 312.96,105.01 315.12,104.78" fill="#1A1F8C"/>
<polygon points="321.00,144.30 321.88,146.28 324.04,146.51 322.43,147.96 322.88,150.09 321.00,149.00 319.12,150.09 319.57,147.96 317.96,146.51 320.12,146.28" fill="#1A1F8C"/>
<polygon points="315.30,182.90 316.18,184.88 318.34,185.11 316.73,186.56 317.18,188.69 315.30,187.60 313.42,188.69 313.87,186.56 312.26,185.11 314.42,184.88" fill="#1A1F8C"/>
<polygon points="372.40,149.40 373.28,151.38 375.44,151.61 373.83,153.06 374.28,155.19 372.40,154.10 370.52,155.19 370.97,153.06 369.36,151.61 371.52,151.38" fill="#1A1F8C"/>
<polygon points="438.80,144.30 439.68,146.28 441.84,146.51 440.23,147.96 440.68,150.09 438.80,149.00 436.92,150.09 437.37,147.96 435.76,146.51 437.92,146.28" fill="#1A1F8C"/>
<polygon points="392.00,163.20 392.88,165.18 395.04,165.41 393.43,166.86 393.88,168.99 392.00,167.90 390.12,168.99 390.57,166.86 388.96,165.41 391.12,165.18" fill="#1A1F8C"/>
<polygon points="334.00,174.00 334.88,175.98 337.04,176.21 335.43,177.66 335.88,179.79 334.00,178.70 332.12,179.79 332.57,177.66 330.96,176.21 333.12,175.98" fill="#1A1F8C"/>
<polygon points="325.50,177.00 326.38,178.98 328.54,179.21 326.93,180.66 327.38,182.79 325.50,181.70 323.62,182.79 324.07,180.66 322.46,179.21 324.62,178.98" fill="#1A1F8C"/>
<polygon points="316.30,174.80 318.70,177.20 316.30,179.60 313.90,177.20" fill="#1A1F8C"  opacity="1"/>
<polygon points="359.60,179.20 362.00,181.60 359.60,184.00 357.20,181.60" fill="#1A1F8C"  opacity="1"/>
<polygon points="316.00,131.40 318.40,133.80 316.00,136.20 313.60,133.80" fill="#1A1F8C"  opacity="1"/>
<rect x="87" y="441" width="45" height="12.3" fill="url(#gb)"/>
<rect x="241.2" y="441" width="45.6" height="12.3" fill="url(#gr)"/>
<rect x="397.6" y="441" width="45" height="12.3" fill="url(#gg)"/>
<text x="139.8" y="452" fill="#222" font-size="11.7" font-family='"Liberation Sans", Arial, sans-serif'>13 µmol L<tspan font-size="7" dy="-4">-1</tspan></text>
<text x="294.6" y="452" fill="#DC5550" font-size="11.7" font-family='"Liberation Sans", Arial, sans-serif'>5.2 µmol L<tspan font-size="7" dy="-4">-1</tspan></text>
<text x="452" y="452" fill="#4DB868" font-size="11.7" font-family='"Liberation Sans", Arial, sans-serif'>0.52 µmol L<tspan font-size="7" dy="-4">-1</tspan></text>
<rect x="116.3" y="465.6" width="8.6" height="8.2" fill="none" stroke="#222" stroke-width="1"/>
<text x="131.30" y="473.80" fill="#222" font-size="11.7" text-anchor="start" font-family='"Liberation Sans", Arial, sans-serif' >&lt; 1 KDa</text>
<polygon points="199.6,465.8 211,465.8 205.3,475" fill="none" stroke="#222" stroke-width="1"/>
<text x="217.40" y="473.80" fill="#222" font-size="11.7" text-anchor="start" font-family='"Liberation Sans", Arial, sans-serif' >3 nm</text>
<circle cx="273.2" cy="469.7" r="4.3" fill="none" stroke="#222" stroke-width="1"/>
<text x="283.70" y="473.80" fill="#222" font-size="11.7" text-anchor="start" font-family='"Liberation Sans", Arial, sans-serif' >8 nm</text>
<polygon points="345.50,464.00 346.97,467.98 351.21,468.15 347.88,470.77 349.03,474.85 345.50,472.50 341.97,474.85 343.12,470.77 339.79,468.15 344.03,467.98" fill="none" stroke="#222" stroke-width="1"/>
<text x="359.80" y="473.80" fill="#222" font-size="11.7" text-anchor="start" font-family='"Liberation Sans", Arial, sans-serif' >11 nm</text>
<polygon points="419.9,465.4 425.8,474.3 414.0,474.3" fill="none" stroke="#222" stroke-width="1"/>
<text x="434.00" y="473.80" fill="#222" font-size="11.7" text-anchor="start" font-family='"Liberation Sans", Arial, sans-serif' >21 nm</text>
<polygon points="491.9,464 498.6,469.2 491.9,474.4 485.2,469.2" fill="none" stroke="#222" stroke-width="1"/>
<text x="506.20" y="473.80" fill="#222" font-size="11.7" text-anchor="start" font-family='"Liberation Sans", Arial, sans-serif' >50 nm</text>
<path d="M626.50 162.0 A52.5 51.2 0 1 1 720.10 162.0 Z" fill="#BEC9DD"/>
<path d="M626.8 156.5 H715 a4 4 0 0 1 4 4 v1.8 a4 4 0 0 1 -4 4 H631 Q628 161.5 626.8 156.5Z" fill="#827C1E"/>
<path d="M626.50 162.0 A52.5 51.2 0 1 1 720.10 162.0" fill="none" stroke="#2C4488" stroke-width="1.4"/>
<path d="M626.50 162.0 A52.5 51.2 0 0 0 720.10 162.0" fill="none" stroke="#2C4488" stroke-width="1.4" stroke-dasharray="3.8 2.2"/>
<path d="M616.1 140.6 L627 161.6 H647.5" fill="none" stroke="#111" stroke-width="1.7" stroke-linejoin="miter"/>
<path d="M625.6 157.6 Q630.6 156.2 631.6 161.2" fill="none" stroke="#111" stroke-width="1.2"/>
<text x="627.2" y="151.5" font-size="14" font-style="italic" fill="#111" font-family='"Liberation Serif", serif'>ψ</text>
<path d="M673.1 140.5 L698.6 174.6" fill="none" stroke="#1F3596" stroke-width="1.3" stroke-dasharray="3 1.8"/>
<polygon points="701.2,178.7 694.4,174.6 698.2,174.2 699.6,170.6" fill="#1F3596"/>
<text x="684" y="153.5" font-size="13" font-style="italic" fill="#111" font-family='"Liberation Sans", Arial, sans-serif'>R<tspan font-size="9" dy="3" font-style="normal">C</tspan></text>
<text x="653.6" y="204.1" font-size="13" fill="#111" font-family='"Liberation Sans", Arial, sans-serif'><tspan font-style="italic">L</tspan> &lt; 2<tspan font-style="italic">R</tspan><tspan font-size="9" dy="3">C</tspan></text>
<path d="M633.61 259.5 A54.2 54.2 0 0 1 710.69 259.5 Z" fill="#BEC9DD"/>
<path d="M633.61 259.5 A54.2 54.2 0 0 1 710.69 259.5" fill="none" stroke="#2C4488" stroke-width="1.4"/>
<rect x="606.7" y="259.4" width="129.1" height="10" rx="5" fill="#827C1E"/>
<path d="M633.61 259.5 A52.5 51.4 0 1 0 710.69 259.5" fill="none" stroke="#2C4488" stroke-width="1.4" stroke-dasharray="3.8 2.2"/>
<path d="M654.9 240.5 L633.9 259 H663.8" fill="none" stroke="#111" stroke-width="1.6"/>
<path d="M639.6 253.9 Q642.2 256 642.2 259" fill="none" stroke="#111" stroke-width="1.3"/>
<text x="647.6" y="257.8" font-size="13" font-style="italic" fill="#111" font-family='"Liberation Serif", serif' textLength="7.6" lengthAdjust="spacingAndGlyphs">θ</text>
<path d="M671.9 296.1 L697.8 330.4" fill="none" stroke="#1F3596" stroke-width="1.3" stroke-dasharray="3 1.8"/>
<polygon points="700.3,334.1 693.5,330 697.3,329.6 698.7,326" fill="#1F3596"/>
<text x="682.8" y="308.6" font-size="13" font-style="italic" fill="#111" font-family='"Liberation Sans", Arial, sans-serif'>R<tspan font-size="9" dy="3" font-style="normal">C</tspan></text>
<text x="653.5" y="361" font-size="13" fill="#111" font-family='"Liberation Sans", Arial, sans-serif'><tspan font-style="italic">L</tspan>&gt; 2<tspan font-style="italic">R</tspan><tspan font-size="9" dy="3">C</tspan></text>
</svg>
</body></html>
